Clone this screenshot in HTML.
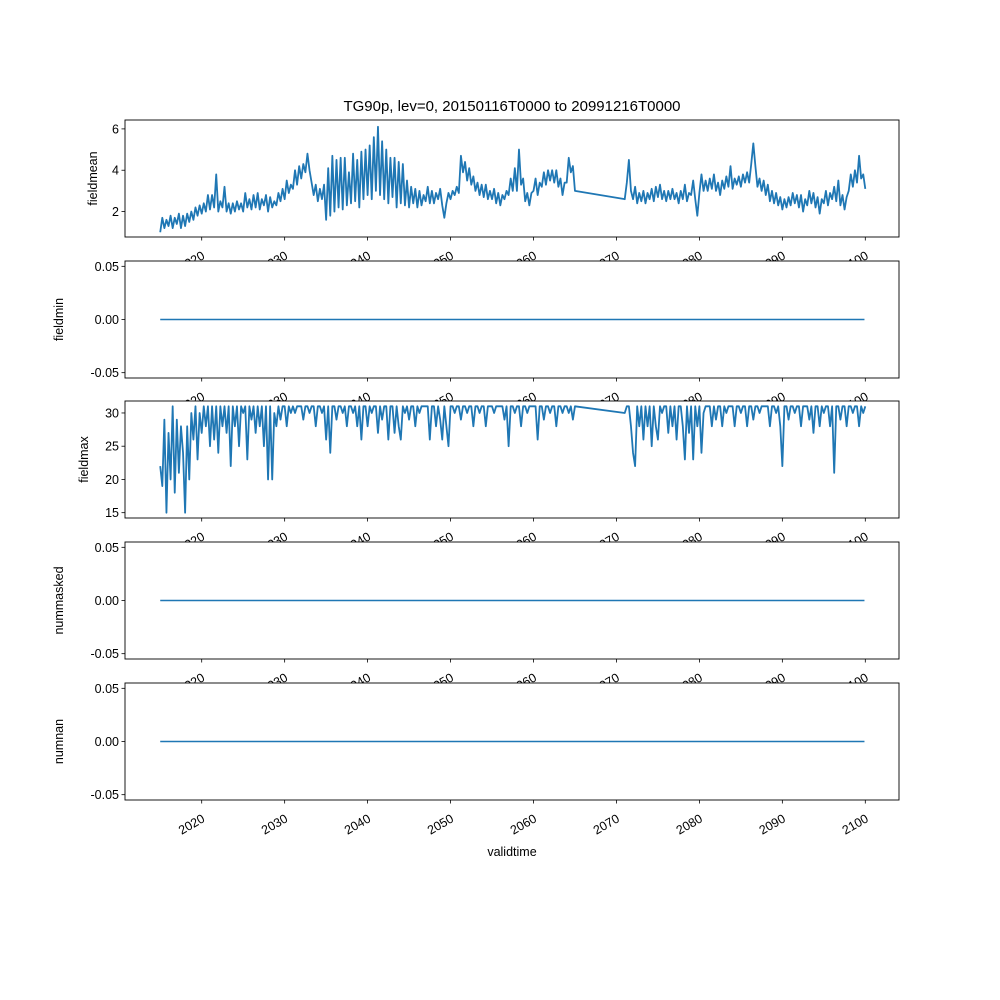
<!DOCTYPE html>
<html><head><meta charset="utf-8"><style>
body{margin:0;background:#fff}
svg{display:block;font-family:"Liberation Sans","DejaVu Sans",sans-serif}
</style></head><body>
<svg id="chart" width="1000" height="1000" xmlns="http://www.w3.org/2000/svg"></svg>
<script>
const xTickYears=[2020,2030,2040,2050,2060,2070,2080,2090,2100];
const seg1Start=2015.0, seg2Start=2071.0, step=0.25;
const meanSeg1=[1.0,1.7,1.2,1.6,1.3,1.8,1.2,1.7,1.4,1.9,1.2,1.8,1.3,1.9,1.5,2.0,1.6,2.2,1.8,2.3,1.9,2.4,2.0,2.8,2.1,2.8,2.2,3.8,2.0,2.5,2.2,3.2,2.0,2.4,1.9,2.4,2.0,2.5,2.1,2.4,2.0,2.9,2.2,2.6,2.1,2.8,2.2,2.9,2.1,2.6,2.3,2.8,2.0,2.7,2.2,2.5,2.3,2.9,2.5,3.1,2.6,3.5,2.9,3.3,3.1,4.0,3.3,4.2,3.6,4.3,3.9,4.8,4.0,3.4,2.8,3.3,2.5,3.1,2.6,3.3,1.6,4.1,1.8,4.7,2.0,4.5,2.2,4.6,2.1,4.6,2.3,3.9,2.4,4.8,2.5,4.5,2.2,4.9,2.6,5.0,2.8,5.2,2.6,5.6,3.0,6.1,2.8,5.4,2.6,5.0,2.4,4.6,2.7,4.6,2.2,4.4,2.4,4.3,2.3,3.5,2.2,3.2,2.4,3.1,2.2,3.0,2.3,2.8,2.5,3.2,2.4,3.0,2.4,2.9,2.6,3.1,2.3,1.7,2.4,2.9,2.6,3.0,2.8,3.2,2.9,4.7,3.9,4.4,3.5,4.1,3.3,3.7,3.0,3.4,2.8,3.3,2.7,3.3,2.6,3.0,2.6,3.1,2.4,2.9,2.3,2.8,2.6,3.0,2.8,3.6,3.0,4.1,3.0,5.0,3.3,3.6,2.5,2.9,2.3,2.9,3.0,3.6,2.8,3.4,3.2,3.9,3.3,4.0,3.5,4.0,3.4,4.0,3.2,3.6,2.8,3.4,3.4,4.6,3.9,4.2,3.0];
const meanSeg2=[2.6,3.4,4.5,3.0,2.6,3.2,2.4,2.9,2.5,3.0,2.4,2.9,2.6,3.1,2.5,3.2,2.7,3.3,2.6,3.0,2.5,3.0,2.6,3.1,2.6,2.9,2.4,3.0,2.6,3.3,2.5,2.9,2.8,3.5,2.6,1.8,2.9,3.8,3.0,3.5,3.0,3.6,3.1,3.8,3.0,3.4,2.8,3.5,3.1,3.7,3.2,4.2,3.1,3.6,3.3,3.7,3.2,3.8,3.4,3.9,3.4,4.3,5.3,4.2,3.2,3.6,3.0,3.5,2.8,3.3,2.5,3.0,2.4,2.9,2.3,2.7,2.1,2.6,2.2,2.7,2.3,2.9,2.4,2.8,2.2,2.8,2.0,2.6,2.3,3.0,2.4,2.9,2.2,2.7,1.9,2.6,2.4,3.0,2.3,2.9,2.6,3.2,2.5,3.5,2.3,2.8,2.1,2.7,3.0,3.8,3.2,4.0,3.4,4.7,3.6,3.8,3.1];
const maxSeg1=[22,19,29,15,27,20,31,18,29,21,28,24,15,28,20,30,26,31,23,30,27,31,28,31,25,31,26,31,24,31,28,31,27,31,22,31,28,31,25,31,30,31,23,31,29,31,27,31,28,31,25,31,20,31,20,30,28,31,29,31,31,28,31,30,31,30,31,31,31,29,31,31,30,31,31,28,31,31,30,31,26,31,24,31,31,29,31,31,30,31,28,31,31,30,31,28,31,26,31,31,28,31,30,31,31,27,31,29,31,31,26,31,31,27,31,28,26,31,30,31,29,31,31,28,31,30,31,31,31,31,26,31,31,28,31,29,26,31,28,25,31,31,30,31,31,29,31,31,30,31,31,28,31,31,30,31,31,28,31,31,31,30,31,31,31,31,29,31,25,31,31,30,31,31,28,31,31,30,31,31,31,31,26,31,31,29,31,31,30,31,31,28,31,31,30,31,31,30,31,29,31];
const maxSeg2=[30,31,31,28,24,22,31,28,31,26,31,28,31,25,31,28,26,31,30,31,31,27,31,28,31,26,31,31,28,23,31,27,31,23,31,28,31,24,30,31,31,31,28,31,29,31,31,28,31,30,31,31,31,28,31,31,30,31,31,28,31,31,29,31,31,30,31,31,31,31,28,31,31,30,31,28,22,31,31,29,31,31,30,31,31,28,31,31,31,29,31,27,31,31,28,31,30,31,31,28,31,21,31,31,29,31,31,28,31,31,30,31,31,28,31,30,31];
const zeroStart=[2015,0], zeroEnd=[2099.9,0];

const svg=document.getElementById('chart');
const NS='http://www.w3.org/2000/svg';
function mk(tag,attrs,parent){const e=document.createElementNS(NS,tag);for(const k in attrs)e.setAttribute(k,attrs[k]);(parent||svg).appendChild(e);return e;}
const L=125,R=899;
function xs(yr){return 201.7+(yr-2020)*(865.3-201.7)/80;}

const panels=[
 {name:'fieldmean',top:120,bot:237,ymin:0.77,ymax:6.43,ticks:[2,4,6],fmt:v=>String(v),series:'mean',lx:93},
 {name:'fieldmin',top:261,bot:378,ymin:-0.055,ymax:0.055,ticks:[-0.05,0,0.05],fmt:v=>v.toFixed(2),series:'zero',lx:59},
 {name:'fieldmax',top:401,bot:518,ymin:14.2,ymax:31.8,ticks:[15,20,25,30],fmt:v=>String(v),series:'max',lx:84},
 {name:'nummasked',top:542,bot:659,ymin:-0.055,ymax:0.055,ticks:[-0.05,0,0.05],fmt:v=>v.toFixed(2),series:'zero',lx:59},
 {name:'numnan',top:683,bot:800,ymin:-0.055,ymax:0.055,ticks:[-0.05,0,0.05],fmt:v=>v.toFixed(2),series:'zero',lx:59}
];

mk('text',{x:512,y:111,'text-anchor':'middle','font-size':15,fill:'#000',}).textContent='TG90p, lev=0, 20150116T0000 to 20991216T0000';

panels.forEach((p,pi)=>{
 const g=mk('g',{});
 
 
 const ys=v=>p.bot-(v-p.ymin)/(p.ymax-p.ymin)*(p.bot-p.top);
 mk('rect',{x:L,y:p.top,width:R-L,height:p.bot-p.top,fill:'#fff'},g);
 const segs=[];
 if(p.series==='mean'){segs.push(meanSeg1.map((v,i)=>[seg1Start+i*step,v]).concat(meanSeg2.map((v,i)=>[seg2Start+i*step,v])));}
 else if(p.series==='max'){segs.push(maxSeg1.map((v,i)=>[seg1Start+i*step,v]).concat(maxSeg2.map((v,i)=>[seg2Start+i*step,v])));}
 else segs.push([zeroStart,zeroEnd]);
 segs.forEach(s=>{
  const line=mk('path',{d:s.map((pt,i)=>(i?'L':'M')+xs(pt[0]).toFixed(2)+','+ys(pt[1]).toFixed(2)).join(''),fill:'none',stroke:'#1f77b4','stroke-width':p.series==='zero'?1.5:1.8,'stroke-linejoin':'round'},g);
  
  
 });
 mk('rect',{x:L,y:p.top,width:R-L,height:p.bot-p.top,fill:'none',stroke:'#000','stroke-width':0.9},g);
 p.ticks.forEach(t=>{
  const y=ys(t);
  mk('line',{x1:L-3.5,x2:L,y1:y,y2:y,stroke:'#000','stroke-width':0.8},g);
  const tx=mk('text',{x:L-6,y:y+4.5,'text-anchor':'end','font-size':12.5,fill:'#000'},g);
  tx.textContent=p.fmt(t);
  
  
 });
 xTickYears.forEach(yr=>{
  const x=xs(yr);
  mk('line',{x1:x,x2:x,y1:p.bot,y2:p.bot+3.5,stroke:'#000','stroke-width':0.8},g);
  const ax=x+4, ay=p.bot+21;
  const tx=mk('text',{x:ax,y:ay,'text-anchor':'end','font-size':12.5,fill:'#000',transform:`rotate(-30 ${ax} ${ay})`},g);
  tx.textContent=yr;
  
  
 });
 const cy=(p.top+p.bot)/2;
 const yl=mk('text',{x:p.lx+4,y:cy,'text-anchor':'middle','font-size':12.5,fill:'#000',transform:`rotate(-90 ${p.lx+4} ${cy})`},g);
 yl.textContent=p.name;
 
 
});
const xl=mk('text',{x:512,y:856,'text-anchor':'middle','font-size':12.5,fill:'#000'});
xl.textContent='validtime';


</script>
</body></html>
